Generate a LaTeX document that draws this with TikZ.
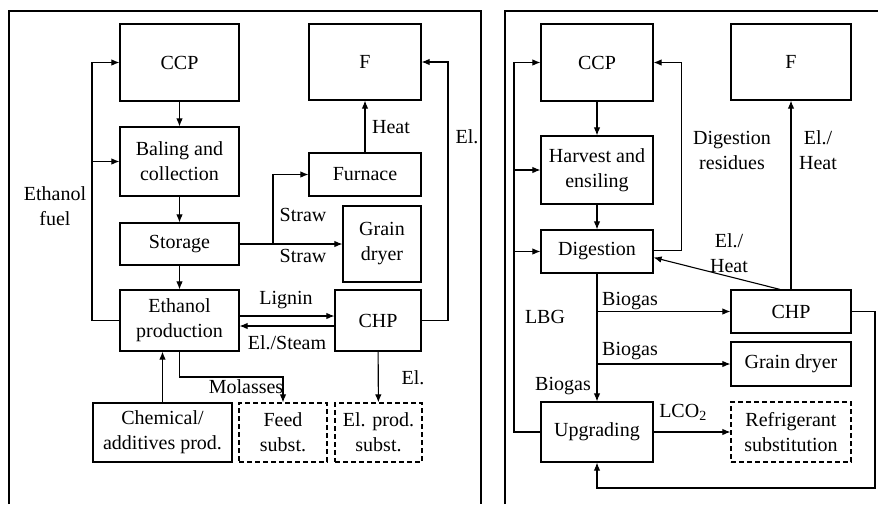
\documentclass[tikz,border=0pt]{standalone}
\usepackage{fontspec}
\setmainfont{Liberation Serif}
\usetikzlibrary{arrows.meta}

\begin{document}
\begin{tikzpicture}[x=1pt, y=-1pt,
  font=\fontsize{20}{25}\selectfont,
  box/.style={draw=black, line width=1.2pt, inner sep=0pt, align=center},
  subst/.style={box, dash pattern=on 5pt off 3pt},
  flow/.style={line width=1.1pt, -{Latex[length=8pt,width=6.5pt]}},
  frame/.style={line width=2.4pt}]
\useasboundingbox (0,0) rectangle (878,504);
% left panel
\draw[frame] (9,504) -- (9,11) -- (481,11) -- (481,504);
\node[box, minimum width=119pt, minimum height=77pt] (ccpA) at (179.5,62.5) {CCP};
\node[box, minimum width=112pt, minimum height=76pt] (fA) at (365,62) {F};
\node[box, minimum width=119pt, minimum height=69pt] (bal) at (179.5,161.5) {Baling and\\collection};
\node[box, minimum width=112pt, minimum height=43pt] (furn) at (365,174.5) {Furnace};
\node[box, minimum width=119pt, minimum height=42pt] (stor) at (179.5,244) {Storage};
\node[box, minimum width=78pt, minimum height=76pt] (dryA) at (382,244) {Grain\\dryer};
\node[box, minimum width=119pt, minimum height=61pt] (eth) at (179.5,320.5) {Ethanol\\production};
\node[box, minimum width=86pt, minimum height=61pt] (chpA) at (378,320.5) {CHP};
\node[box, minimum width=139pt, minimum height=59pt] (chem) at (162.5,432.5) {Chemical/\\additives prod.};
\node[subst, minimum width=88pt, minimum height=59pt] (feed) at (283,432.5) {Feed\\subst.};
\node[subst, minimum width=87pt, minimum height=59pt] (elsub) at (378.5,432.5) {El. prod.\\subst.};
\coordinate (fuelA) at (92,320.5);
\coordinate (split) at (273,244);
\coordinate (elA) at (448,320.5);
\coordinate (mol) at (179.5,377);
\draw[flow] (ccpA) -- (bal);
\draw[flow] (bal) -- (stor);
\draw[flow] (stor) -- (eth);
\draw[flow] (eth.west) -- (fuelA) |- (ccpA.west);
\draw[flow] (fuelA |- bal.west) -- (bal.west);
\draw[flow] (stor.east) -- (dryA.west);
\draw[flow] (split) |- (furn.west);
\draw[flow] (furn) -- (fA);
\draw[flow] ([yshift=4.5pt]eth.east) -- ([yshift=4.5pt]chpA.west);
\draw[flow] ([yshift=-5.5pt]chpA.west) -- ([yshift=-5.5pt]eth.east);
\draw[flow] (chpA.east) -- (elA) |- (fA.east);
\draw[flow] (chpA) -- (elsub);
\draw[flow] (eth.south) -- (mol) -| (feed.north);
\draw[flow] (chem.north) -- (chem.north |- eth.south);
\node (fuelL) at (55,206) [align=center] {Ethanol\\fuel};
\node (straw1) at (303,215) {Straw};
\node (straw2) at (303,256) {Straw};
\node (heatA) at (391,127) {Heat};
\node (lig) at (286,300) {Lignin};
\node (steam) at (287,343) {El./Steam};
\node (elL1) at (467,137) {El.};
\node (elL2) at (413,378) {El.};
\node (molL) at (246,387) {Molasses};
% right panel
\draw[frame] (505,504) -- (505,11) -- (878,11);
\node[box, minimum width=112pt, minimum height=77pt] (ccpB) at (597,62.5) {CCP};
\node[box, minimum width=120pt, minimum height=76pt] (fB) at (791,62) {F};
\node[box, minimum width=112pt, minimum height=68pt] (harv) at (597,170) {Harvest and\\ensiling};
\node[box, minimum width=112pt, minimum height=43pt] (dig) at (597,251.5) {Digestion};
\node[box, minimum width=120pt, minimum height=43pt] (chpB) at (791,311.5) {CHP};
\node[box, minimum width=120pt, minimum height=44pt] (dryB) at (791,364) {Grain dryer};
\node[box, minimum width=112pt, minimum height=60pt] (upg) at (597,432) {Upgrading};
\node[subst, minimum width=120pt, minimum height=60pt] (refr) at (791,432) {Refrigerant\\substitution};
\coordinate (lbg) at (514,432);
\coordinate (loop) at (875,488);
\draw[flow] (ccpB) -- (harv);
\draw[flow] (harv) -- (dig);
\draw[flow] (dig) -- (upg);
\draw[flow] (dig.south |- chpB.west) -- (chpB.west);
\draw[flow] (dig.south |- dryB.west) -- (dryB.west);
\draw[flow] (upg.west) -- (lbg) |- (ccpB.west);
\draw[flow] (lbg |- harv.west) -- (harv.west);
\draw[flow] (lbg |- dig.west) -- (dig.west);
\draw[flow] ([yshift=1pt]dig.east) -- ++(28,0) |- (ccpB.east);
\draw[flow] ([xshift=-11pt]chpB.north) -- ([yshift=-6pt]dig.east);
\draw[flow] (chpB) -- (fB);
\draw[flow] (upg) -- (refr);
\draw[flow] (chpB.east) -| (loop) -| (upg.south);
\node (res) at (732,150) [align=center] {Digestion\\residues};
\node (ehB1) at (818,150) [align=center] {El./\\Heat};
\node (ehB2) at (729,253) [align=center] {El./\\Heat};
\node (lbgL) at (545,317) {LBG};
\node (bio1) at (630,301) {Biogas};
\node (bio2) at (630,351) {Biogas};
\node (bio3) at (563,386) {Biogas};
\node (lco) at (683,412) {LCO\textsubscript{2}};
\end{tikzpicture}
\end{document}
